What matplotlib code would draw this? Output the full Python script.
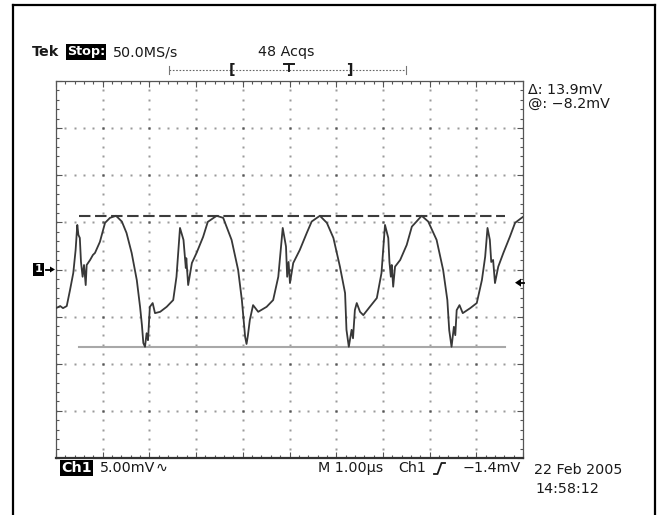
import matplotlib
matplotlib.use("Agg")
import matplotlib.pyplot as plt
from matplotlib.lines import Line2D
from matplotlib.patches import Polygon
import numpy as np

# ---------------- data (time in µs, voltage in mV) ----------------
time_us = [0.00, 0.09, 0.15, 0.23, 0.30, 0.37, 0.42, 0.456, 0.48, 0.51, 0.535, 0.57, 0.60, 0.636, 0.657,
           0.73, 0.79, 0.835, 0.94, 1.05, 1.156, 1.285, 1.41, 1.51, 1.62, 1.73, 1.80, 1.84, 1.87, 1.906,
           1.94, 1.97, 2.01, 2.07, 2.12, 2.23, 2.37, 2.51, 2.58, 2.655, 2.73, 2.78, 2.79, 2.83, 2.91,
           3.01, 3.15, 3.25, 3.44, 3.58, 3.76, 3.90, 3.98, 4.05, 4.08, 4.11, 4.15, 4.22, 4.33, 4.51,
           4.65, 4.76, 4.855, 4.925, 4.95, 4.98, 5.01, 5.08, 5.22, 5.37, 5.475, 5.65, 5.80, 5.94, 6.08,
           6.19, 6.22, 6.27, 6.33, 6.36, 6.40, 6.44, 6.51, 6.58, 6.72, 6.87, 6.97, 7.045, 7.115, 7.14,
           7.17, 7.19, 7.22, 7.26, 7.37, 7.51, 7.62, 7.72, 7.83, 7.97, 8.15, 8.29, 8.38, 8.42, 8.47,
           8.52, 8.55, 8.58, 8.64, 8.71, 8.87, 9.01, 9.12, 9.19, 9.24, 9.29, 9.32, 9.36, 9.40, 9.47,
           9.58, 9.72, 9.83, 9.97, 10.0]
volt_mv = [-4.10, -3.88, -4.10, -3.88, -2.18, -0.37, 2.07, 4.73, 3.67, 3.35, 0.80, -0.77, 0.48, -1.65, 0.48,
           1.01, 1.54, 1.76, 2.93, 4.95, 5.48, 5.70, 5.09, 3.88, 1.76, -1.12, -3.96, -5.90, -7.80, -8.20,
           -6.76, -7.50, -3.96, -3.56, -4.63, -4.49, -3.96, -3.24, -0.77, 4.41, 3.14, 0.16, 1.20, -1.65, 0.69,
           1.76, 3.46, 5.05, 5.70, 5.48, 3.14, -0.05, -3.24, -7.15, -7.90, -6.97, -5.37, -3.78, -4.49, -3.96,
           -3.24, -0.77, 4.41, 2.43, -0.77, 0.80, -1.44, 0.69, 2.07, 3.88, 5.09, 5.70, 4.95, 3.35, 0.30,
           -2.50, -6.40, -8.20, -6.40, -7.30, -4.30, -3.56, -4.49, -4.84, -3.96, -3.03, -0.37, 4.73, 3.35, 0.80,
           -0.77, 0.48, -1.83, 0.30, 1.01, 2.61, 4.55, 5.09, 5.70, 5.09, 3.14, -0.05, -3.24, -6.44, -8.20,
           -6.08, -6.97, -4.31, -3.78, -4.63, -4.10, -3.56, -1.12, 1.36, 4.41, 3.14, 0.80, 1.01, -1.44, 0.30,
           1.76, 3.49, 4.95, 5.48, 5.58]

cursor_delta_mv = 13.9
cursor_at_mv = -8.2
cursor_top_mv = cursor_at_mv + cursor_delta_mv
cursor_span_us = [0.49, 9.61]

volts_per_div = 5.0
n_xdiv, n_ydiv = 10, 8

header_texts = ["Tek", "Stop:", "50.0MS/s", "48 Acqs"]
footer_texts = ["Ch1", "5.00mV", "M 1.00\u00b5s", "Ch1", "\u22121.4mV", "22 Feb 2005", "14:58:12"]
readout_texts = ["\u0394: 13.9mV", "@: \u22128.2mV"]
trigger_level_mv = -1.4

# ---------------- figure ----------------
W, H = 657, 515
fig = plt.figure(figsize=(W / 100, H / 100), dpi=100)
fig.patch.set_facecolor("white")

def fx(x):
    return x / W

def fy(y):
    return 1 - y / H

L, R, T, B = 56, 523, 81, 458
ax = fig.add_axes([fx(L), fy(B), (R - L) / W, (B - T) / H])
ax.set_xlim(0, n_xdiv)
ax.set_ylim(-volts_per_div * n_ydiv / 2, volts_per_div * n_ydiv / 2)
ax.set_facecolor("white")

ax.set_xticks(np.arange(0, n_xdiv + 1, 1))
ax.set_xticks(np.arange(0, n_xdiv + 0.01, 0.2), minor=True)
ax.set_yticks(np.arange(-20, 21, 5))
ax.set_yticks(np.arange(-20, 21, 1), minor=True)
ax.tick_params(which="both", direction="in", top=True, right=True, labelbottom=False,
               labelleft=False, color="#555555", width=0.8)
ax.tick_params(which="major", length=4.5)
ax.tick_params(which="minor", length=2.4)
for s in ax.spines.values():
    s.set_color("#555555")
    s.set_linewidth(0.9)
ax.spines["bottom"].set_linewidth(1.6)
ax.spines["bottom"].set_color("#333333")

# dotted graticule
ymin, ymax = ax.get_ylim()
for t in range(1, n_xdiv):
    vs = np.arange(ymin, ymax + 0.01, 1.0)
    ax.plot(np.full_like(vs, t), vs, ls="none", marker="s", ms=1.5, mec="none", mfc="#9a9a9a", zorder=1)
for v in np.arange(ymin + 5, ymax, 5):
    ts = np.arange(0, n_xdiv + 0.01, 0.2)
    ax.plot(ts, np.full_like(ts, v), ls="none", marker="s", ms=1.5, mec="none", mfc="#9a9a9a", zorder=1)
ti, vi = np.meshgrid(np.arange(1, n_xdiv), np.arange(ymin + 5, ymax, 5))
ax.plot(ti.ravel(), vi.ravel(), ls="none", marker="s", ms=1.8, mec="none", mfc="#555555", zorder=1)

# cursors
ax.plot(cursor_span_us, [cursor_top_mv, cursor_top_mv], color="#3c3c3c", lw=1.5,
        dashes=(5.5, 2.2), zorder=2)
ax.plot(cursor_span_us, [cursor_at_mv, cursor_at_mv], color="#a8a8a8", lw=1.5, zorder=2)

# trace
ax.plot(time_us, volt_mv, color="#383838", lw=1.3, zorder=3, solid_joinstyle="round")

# ---------------- outer frame ----------------
fig.add_artist(Line2D([fx(12.5), fx(12.5)], [fy(5), 0], color="black", lw=1.6))
fig.add_artist(Line2D([fx(12.5), fx(655)], [fy(5), fy(5)], color="black", lw=1.6))
fig.add_artist(Line2D([fx(655), fx(655)], [fy(5), 0], color="black", lw=1.6))

FS = 10.3
fam = "DejaVu Sans"
txtc = "#1a1a1a"

# header
fig.text(fx(32), fy(52), header_texts[0], fontsize=FS, fontweight="bold", family=fam,
         color=txtc, ha="left", va="center")
fig.text(fx(67), fy(52), header_texts[1], fontsize=9.2, fontweight="bold", family=fam,
         color="white", ha="left", va="center",
         bbox=dict(boxstyle="square,pad=0.08", fc="black", ec="none"))
fig.text(fx(113), fy(52), header_texts[2], fontsize=FS, family=fam, color=txtc,
         ha="left", va="center")
fig.text(fx(286), fy(52), header_texts[3], fontsize=FS, family=fam, color=txtc,
         ha="center", va="center")

# trigger position bracket bar
yb = 70
fig.add_artist(Line2D([fx(169), fx(406)], [fy(yb), fy(yb)], color="#666666", lw=0.8,
                      ls=(0, (1.5, 1.5))))
for xe in (169, 406):
    fig.add_artist(Line2D([fx(xe), fx(xe)], [fy(yb - 4), fy(yb + 4)], color="#777777", lw=0.8))
fig.text(fx(232), fy(yb), "[", fontsize=FS, fontweight="bold", family=fam, color=txtc,
         ha="center", va="center")
fig.text(fx(349), fy(yb), "]", fontsize=FS, fontweight="bold", family=fam, color=txtc,
         ha="center", va="center")
fig.add_artist(Line2D([fx(284), fx(294)], [fy(64), fy(64)], color=txtc, lw=1.4))
fig.add_artist(Line2D([fx(289), fx(289)], [fy(64), fy(yb + 1)], color=txtc, lw=1.4))

# readouts
fig.text(fx(528), fy(90), readout_texts[0], fontsize=FS, family=fam, color=txtc,
         ha="left", va="center")
fig.text(fx(528), fy(104), readout_texts[1], fontsize=FS, family=fam, color=txtc,
         ha="left", va="center")

# footer
yf = 468
fig.text(fx(61), fy(yf), footer_texts[0], fontsize=FS, fontweight="bold", family=fam,
         color="white", ha="left", va="center",
         bbox=dict(boxstyle="square,pad=0.08", fc="black", ec="none"))
fig.text(fx(100), fy(yf), footer_texts[1], fontsize=FS, family=fam, color=txtc,
         ha="left", va="center")
fig.text(fx(155), fy(yf), "\u223f", fontsize=FS, family=fam, color=txtc,
         ha="left", va="center")
fig.text(fx(318), fy(yf), footer_texts[2], fontsize=FS, family=fam, color=txtc,
         ha="left", va="center")
fig.text(fx(398), fy(yf), footer_texts[3], fontsize=FS, family=fam, color=txtc,
         ha="left", va="center")
fig.add_artist(Line2D([fx(434), fx(437.5), fx(441.5), fx(445)],
                      [fy(474), fy(474), fy(463), fy(463)], color=txtc, lw=1.3))
fig.text(fx(521), fy(yf), footer_texts[4], fontsize=FS, family=fam, color=txtc,
         ha="right", va="center")
fig.text(fx(534), fy(470), footer_texts[5], fontsize=FS, family=fam, color=txtc,
         ha="left", va="center")
fig.text(fx(535), fy(489), footer_texts[6], fontsize=FS, family=fam, color=txtc,
         ha="left", va="center")

# channel ground marker "1 ->" at 0 mV
yg = ax.transData.transform((0, 0))[1]
yg_px = H - yg
fig.text(fx(35), fy(yg_px), "1", fontsize=8, fontweight="bold", family=fam, color="white",
         ha="left", va="center",
         bbox=dict(boxstyle="square,pad=0.15", fc="black", ec="none"))
fig.add_artist(Line2D([fx(46), fx(51)], [fy(yg_px), fy(yg_px)], color="black", lw=1.3))
fig.add_artist(Polygon([[fx(50), fy(yg_px - 3)], [fx(55), fy(yg_px)], [fx(50), fy(yg_px + 3)]],
                       closed=True, fc="black", ec="none", transform=fig.transFigure))

# trigger level marker on the right
yt = H - ax.transData.transform((0, trigger_level_mv))[1]
fig.add_artist(Polygon([[fx(521), fy(yt - 4)], [fx(515), fy(yt)], [fx(521), fy(yt + 4)]],
                       closed=True, fc="black", ec="none", transform=fig.transFigure))
fig.add_artist(Line2D([fx(520), fx(524)], [fy(yt), fy(yt)], color="black", lw=1.3))

fig.savefig("out.png", dpi=100, facecolor="white")
